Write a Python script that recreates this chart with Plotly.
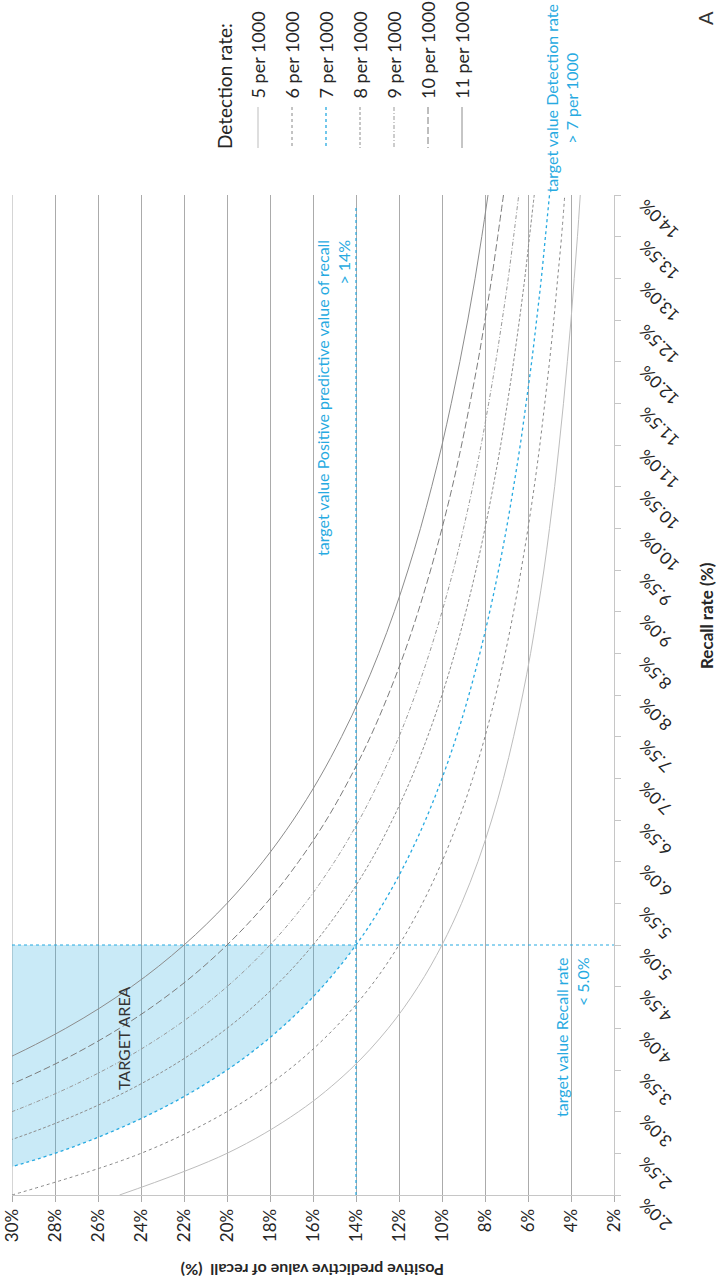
import plotly.graph_objects as go

# Recall rate (%) grid and positive predictive value (%) per detection rate
recall_pct = [2.0, 2.5, 3.0, 3.5, 4.0, 4.5, 5.0, 5.5, 6.0, 6.5, 7.0, 7.5, 8.0,
              8.5, 9.0, 9.5, 10.0, 10.5, 11.0, 11.5, 12.0, 12.5, 13.0, 13.5, 14.0]

ppv_dr5 = [25.0, 20.0, 16.67, 14.29, 12.5, 11.11, 10.0, 9.09, 8.33, 7.69, 7.14, 6.67, 6.25,
           5.88, 5.56, 5.26, 5.0, 4.76, 4.55, 4.35, 4.17, 4.0, 3.85, 3.70, 3.57]
ppv_dr6 = [30.0, 24.0, 20.0, 17.14, 15.0, 13.33, 12.0, 10.91, 10.0, 9.23, 8.57, 8.0, 7.5,
           7.06, 6.67, 6.32, 6.0, 5.71, 5.45, 5.22, 5.0, 4.8, 4.62, 4.44, 4.29]
ppv_dr7 = [35.0, 28.0, 23.33, 20.0, 17.5, 15.56, 14.0, 12.73, 11.67, 10.77, 10.0, 9.33, 8.75,
           8.24, 7.78, 7.37, 7.0, 6.67, 6.36, 6.09, 5.83, 5.6, 5.38, 5.19, 5.0]
ppv_dr8 = [40.0, 32.0, 26.67, 22.86, 20.0, 17.78, 16.0, 14.55, 13.33, 12.31, 11.43, 10.67, 10.0,
           9.41, 8.89, 8.42, 8.0, 7.62, 7.27, 6.96, 6.67, 6.4, 6.15, 5.93, 5.71]
ppv_dr9 = [45.0, 36.0, 30.0, 25.71, 22.5, 20.0, 18.0, 16.36, 15.0, 13.85, 12.86, 12.0, 11.25,
           10.59, 10.0, 9.47, 9.0, 8.57, 8.18, 7.83, 7.5, 7.2, 6.92, 6.67, 6.43]
ppv_dr10 = [50.0, 40.0, 33.33, 28.57, 25.0, 22.22, 20.0, 18.18, 16.67, 15.38, 14.29, 13.33, 12.5,
            11.76, 11.11, 10.53, 10.0, 9.52, 9.09, 8.70, 8.33, 8.0, 7.69, 7.41, 7.14]
ppv_dr11 = [55.0, 44.0, 36.67, 31.43, 27.5, 24.44, 22.0, 20.0, 18.33, 16.92, 15.71, 14.67, 13.75,
            12.94, 12.22, 11.58, 11.0, 10.48, 10.0, 9.57, 9.17, 8.8, 8.46, 8.15, 7.86]

detection_labels = ["5 per 1000", "6 per 1000", "7 per 1000", "8 per 1000",
                    "9 per 1000", "10 per 1000", "11 per 1000"]

ppv_ticks = [30, 28, 26, 24, 22, 20, 18, 16, 14, 12, 10, 8, 6, 4, 2]
ppv_tick_labels = ["30%", "28%", "26%", "24%", "22%", "20%", "18%", "16%",
                   "14%", "12%", "10%", "8%", "6%", "4%", "2%"]
recall_tick_labels = ["2.0%", "2.5%", "3.0%", "3.5%", "4.0%", "4.5%", "5.0%", "5.5%",
                      "6.0%", "6.5%", "7.0%", "7.5%", "8.0%", "8.5%", "9.0%", "9.5%",
                      "10.0%", "10.5%", "11.0%", "11.5%", "12.0%", "12.5%", "13.0%",
                      "13.5%", "14.0%"]

# target values
ppv_target = 14.0
recall_target = 5.0
ppv_max = 30.0
ppv_target_top = 13.85

# ---------------------------------------------------------------- styling
FONT = "Lato"
CYAN = "#27aae1"
GRID = "#ababab"
AXIS = "#c6c6c6"
TXT = "#262626"

series = [
    (ppv_dr5, "#bdbdbd", "solid", 1.0),
    (ppv_dr6, "#888888", "dot", 1.0),
    (ppv_dr7, CYAN, "dot", 1.3),
    (ppv_dr8, "#8e8e8e", "3px,2px", 1.0),
    (ppv_dr9, "#999999", "4px,2px,1px,2px", 1.0),
    (ppv_dr10, "#7c7c7c", "7px,3px", 1.0),
    (ppv_dr11, "#8c8c8c", "solid", 1.0),
]

# plot-area edges in pixels, used to place the free-standing texts
PL, PR, PT, PB = 12, 614, 195, 1195


def px(x):
    return (x - PL) / (PR - PL)


def py(y):
    return (PB - y) / (PB - PT)


fig = go.Figure()

# shaded target area: left of the 7 per 1000 curve, below the recall target
n_fill = recall_pct.index(recall_target) + 1
fig.add_trace(go.Scatter(x=[ppv_max, ppv_max], y=[recall_pct[0], recall_target],
                         mode="lines", line=dict(width=0), hoverinfo="skip",
                         showlegend=False))
fig.add_trace(go.Scatter(x=ppv_dr7[:n_fill], y=recall_pct[:n_fill], mode="lines",
                         line=dict(width=0, shape="spline", smoothing=1),
                         fill="tonextx", fillcolor="rgba(39,170,225,0.25)",
                         hoverinfo="skip", showlegend=False))

# target value lines
fig.add_trace(go.Scatter(x=[ppv_max, ppv_ticks[-1]], y=[recall_target, recall_target],
                         mode="lines", line=dict(color=CYAN, width=1.2, dash="dot"),
                         showlegend=False))
fig.add_trace(go.Scatter(x=[ppv_target, ppv_target], y=[recall_pct[0], ppv_target_top],
                         mode="lines", line=dict(color=CYAN, width=1.2, dash="dot"),
                         showlegend=False))

# detection-rate curves
for (vals, col, dash, w), name in zip(series, detection_labels):
    fig.add_trace(go.Scatter(x=vals, y=recall_pct, mode="lines", name=name,
                             line=dict(color=col, width=w, dash=dash,
                                       shape="spline", smoothing=1),
                             showlegend=False))

ann = []

# recall tick labels (slanted)
for r, lab in zip(recall_pct, recall_tick_labels):
    ann.append(dict(x=px(632), y=r, xref="paper", yref="y", text=lab,
                    textangle=-135, xanchor="left", yanchor="top", yshift=3,
                    showarrow=False, font=dict(family=FONT, size=17, color=TXT)))

# axis titles
ann.append(dict(x=px(706), y=py(615), xref="paper", yref="paper",
                text="<b>Recall rate (%)</b>", textangle=-90, showarrow=False,
                xanchor="center", yanchor="middle",
                font=dict(family=FONT, size=17, color=TXT)))
ann.append(dict(x=px(313), y=py(1271), xref="paper", yref="paper",
                text="<b>Positive predictive value of recall  (%)</b>", textangle=180,
                showarrow=False, xanchor="center", yanchor="middle",
                font=dict(family=FONT, size=16, color=TXT)))

# annotations inside the plot
ann.append(dict(x=px(123), y=py(1038), xref="paper", yref="paper", text="TARGET AREA",
                textangle=-90, showarrow=False, xanchor="center", yanchor="middle",
                font=dict(family=FONT, size=16, color="#333333")))
ann.append(dict(x=px(333), y=py(238), xref="paper", yref="paper",
                text="target value Positive predictive value of recall<br>> 14%",
                textangle=-90, align="right", showarrow=False,
                xanchor="center", yanchor="top",
                font=dict(family=FONT, size=16, color=CYAN)))
ann.append(dict(x=px(572), y=py(955), xref="paper", yref="paper",
                text="target value Recall rate<br>< 5.0%",
                textangle=-90, align="right", showarrow=False,
                xanchor="center", yanchor="top",
                font=dict(family=FONT, size=16, color=CYAN)))
ann.append(dict(x=px(562), y=py(2), xref="paper", yref="paper",
                text="target value Detection rate<br>> 7 per 1000",
                textangle=-90, align="center", showarrow=False,
                xanchor="center", yanchor="top",
                font=dict(family=FONT, size=16, color=CYAN)))

# legend
ann.append(dict(x=px(225), y=py(151), xref="paper", yref="paper", text="Detection rate:",
                textangle=-90, showarrow=False, xanchor="center", yanchor="bottom",
                font=dict(family=FONT, size=19, color=TXT)))
shapes = [
    # grid line on the left border of the plot area (30 %)
    dict(type="line", xref="x", yref="paper", x0=ppv_max, x1=ppv_max, y0=0, y1=1,
         line=dict(color=GRID, width=1), layer="below"),
]
for i, ((vals, col, dash, w), name) in enumerate(zip(series, detection_labels)):
    cx = 258 + 34 * i
    ann.append(dict(x=px(cx), y=py(101), xref="paper", yref="paper", text=name,
                    textangle=-90, showarrow=False, xanchor="center", yanchor="bottom",
                    font=dict(family=FONT, size=18, color=TXT)))
    shapes.append(dict(type="line", xref="paper", yref="paper",
                       x0=px(cx), x1=px(cx), y0=py(107), y1=py(148),
                       line=dict(color=col, width=w, dash=dash)))

# panel letter
ann.append(dict(x=px(705), y=py(18), xref="paper", yref="paper", text="A",
                textangle=-90, showarrow=False, xanchor="center", yanchor="middle",
                font=dict(family=FONT, size=20, color="#333333")))

fig.update_layout(
    width=716, height=1286,
    margin=dict(l=PL, r=716 - PR, t=PT, b=1286 - PB, autoexpand=False),
    paper_bgcolor="white", plot_bgcolor="white",
    annotations=ann, shapes=shapes,
    xaxis=dict(range=[ppv_ticks[0], ppv_ticks[-1]], tickvals=ppv_ticks,
               ticktext=ppv_tick_labels, tickangle=-90,
               tickfont=dict(family=FONT, size=17, color=TXT),
               ticklabeloverflow="allow", automargin=False,
               ticks="outside", ticklen=6, tickcolor=GRID,
               showgrid=True, gridcolor=GRID, gridwidth=1,
               showline=True, linecolor=AXIS, linewidth=1,
               zeroline=False, fixedrange=True),
    yaxis=dict(range=[recall_pct[0], recall_pct[-1]], tickvals=recall_pct,
               side="right", showticklabels=False, automargin=False,
               ticks="outside", ticklen=6, tickcolor=AXIS,
               showgrid=False, showline=True, linecolor=AXIS, linewidth=1,
               zeroline=False, fixedrange=True),
)

fig.write_html("out.html")
